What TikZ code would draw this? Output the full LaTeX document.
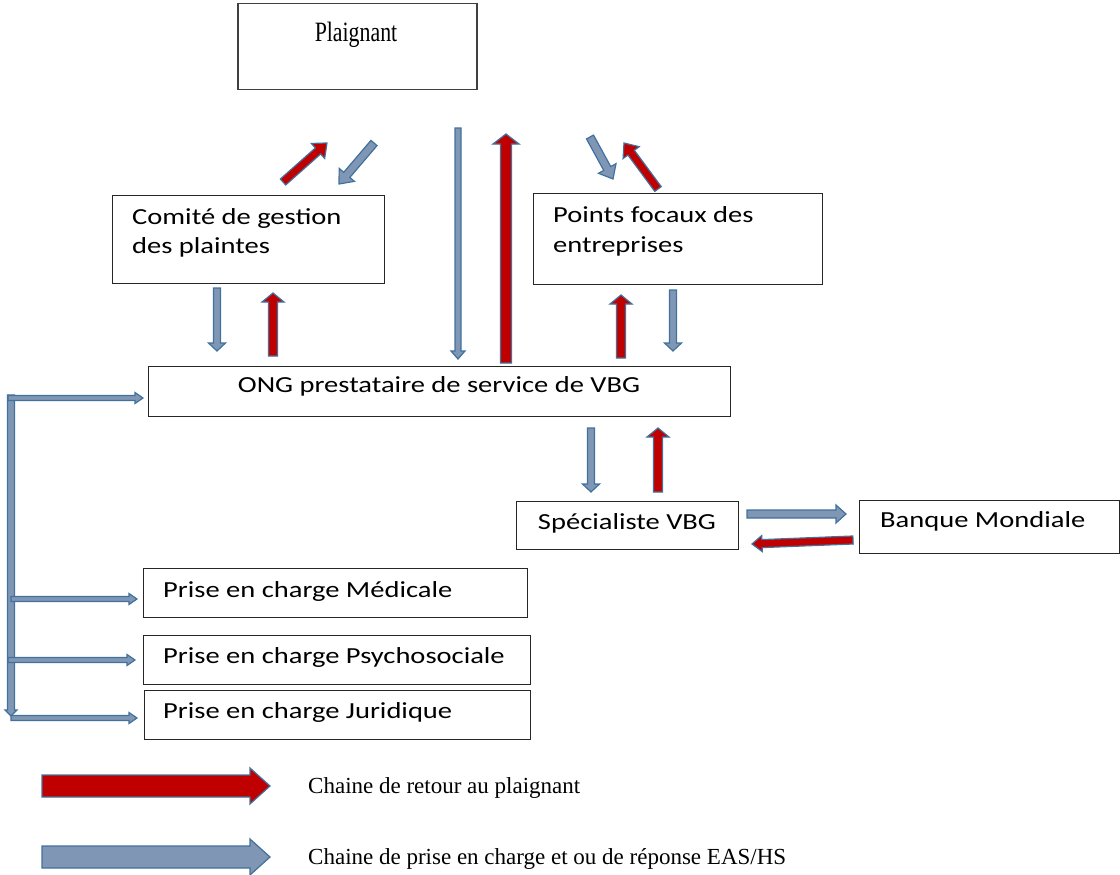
\documentclass[tikz,border=0pt]{standalone}
\usepackage{fontspec}
\usetikzlibrary{calc}
\newfontfamily\carl{Carlito}[FakeStretch=1.24]
\newfontfamily\serifc{Liberation Serif}[FakeStretch=0.78]
\newfontfamily\serifn{Liberation Serif}
\definecolor{arrblue}{RGB}{127,150,180}
\definecolor{arredge}{RGB}{65,113,156}
\definecolor{arrred}{RGB}{192,0,0}
\tikzset{
  box/.style={draw=black!85, line width=1pt, anchor=north west, inner sep=0pt},
  lbl/.style={anchor=base west, inner sep=0pt, font=\carl\fontsize{23}{28}\selectfont},
  leg/.style={anchor=base west, inner sep=0pt, font=\serifn\fontsize{23}{28}\selectfont},
  bluearr/.style={fill=arrblue, draw=arredge, line width=1.2pt},
  redarr/.style={fill=arrred, draw=arredge, line width=1.2pt},
}
% #1 style, #2 start, #3 tip, #4 shaft half width, #5 head half width, #6 head length
\newcommand\blockarr[6]{%
  \coordinate (ban) at ($(#3)!#6!(#2)$);
  \draw[#1] ($(#2)!#4!90:(#3)$) -- ($(ban)!#4!90:(#3)$) -- ($(ban)!#5!90:(#3)$)
    -- (#3) -- ($(ban)!#5!-90:(#3)$) -- ($(ban)!#4!-90:(#3)$) -- ($(#2)!#4!-90:(#3)$) -- cycle;}
\begin{document}
\begin{tikzpicture}[x=1pt,y=-1pt]
\useasboundingbox (0,0) rectangle (1120,875);
% boxes
\node[box, draw=black!75, line width=1.5pt, minimum width=239pt, minimum height=86pt] (plaignant) at (237,3) {};
\node[anchor=base, inner sep=0pt, font=\serifc\fontsize{28}{32}\selectfont] (tplaignant) at (356,42) {Plaignant};
\node[box, minimum width=272pt, minimum height=88pt] (comite) at (112,195) {};
\node[lbl] (tcomite1) at (132,224) {Comité de gestion};
\node[lbl] (tcomite2) at (132,253) {des plaintes};
\node[box, minimum width=289pt, minimum height=91pt] (points) at (533,193) {};
\node[lbl] (tpoints1) at (553,222) {Points focaux des};
\node[lbl] (tpoints2) at (553,252) {entreprises};
\node[box, minimum width=582pt, minimum height=50pt] (ong) at (148,366) {};
\node[lbl, anchor=base] (tong) at (439,392) {ONG prestataire de service de VBG};
\node[box, minimum width=222pt, minimum height=48pt] (spec) at (516,501) {};
\node[lbl, anchor=base] (tspec) at (627,529) {Spécialiste VBG};
\node[box, minimum width=260pt, minimum height=53pt] (banque) at (859,500) {};
\node[lbl] (tbanque) at (880,527) {Banque Mondiale};
\node[box, minimum width=384pt, minimum height=49pt] (med) at (143,568) {};
\node[lbl] (tmed) at (163,597) {Prise en charge Médicale};
\node[box, minimum width=387pt, minimum height=49pt] (psy) at (143,635) {};
\node[lbl] (tpsy) at (163,663) {Prise en charge Psychosociale};
\node[box, minimum width=386pt, minimum height=49pt] (jur) at (144,690) {};
\node[lbl] (tjur) at (163,718) {Prise en charge Juridique};
% arrow end points
\coordinate (r1s) at (283,182); \coordinate (r1e) at (327,143);
\coordinate (b1s) at (374,143); \coordinate (b1e) at (339,184);
\coordinate (b2s) at (217,288); \coordinate (b2e) at (217,351);
\coordinate (r2s) at (273,356); \coordinate (r2e) at (273,293);
\coordinate (b3s) at (458,128); \coordinate (b3e) at (458,359);
\coordinate (r3s) at (506,363); \coordinate (r3e) at (506,134);
\coordinate (b4s) at (590,137); \coordinate (b4e) at (613,179);
\coordinate (r4s) at (658,189); \coordinate (r4e) at (624,143);
\coordinate (r5s) at (621,358); \coordinate (r5e) at (621,295);
\coordinate (b5s) at (673,290); \coordinate (b5e) at (673,351);
\coordinate (b6s) at (591,428); \coordinate (b6e) at (591,492);
\coordinate (r6s) at (658,492); \coordinate (r6e) at (658,428);
\coordinate (b7s) at (747,514); \coordinate (b7e) at (846,514);
\coordinate (r7s) at (853,540); \coordinate (r7e) at (752,544);
\coordinate (vs) at (11,395); \coordinate (ve) at (11,716);
\coordinate (h1s) at (8,398); \coordinate (h1e) at (143,398);
\coordinate (h2s) at (11,599); \coordinate (h2e) at (137,599);
\coordinate (h3s) at (8,660); \coordinate (h3e) at (135,660);
\coordinate (h4s) at (11,718); \coordinate (h4e) at (137,718);
\coordinate (lrs) at (42,786); \coordinate (lre) at (270,786);
\coordinate (lbs) at (42,857); \coordinate (lbe) at (270,857);
% arrows
\blockarr{redarr}{r1s}{r1e}{4pt}{10pt}{12pt}
\blockarr{bluearr}{b1s}{b1e}{4pt}{10pt}{12pt}
\blockarr{bluearr}{b2s}{b2e}{3.5pt}{8.5pt}{8pt}
\blockarr{redarr}{r2s}{r2e}{4.5pt}{11pt}{9pt}
\blockarr{bluearr}{b3s}{b3e}{3pt}{7pt}{8pt}
\blockarr{redarr}{r3s}{r3e}{5.5pt}{13pt}{10pt}
\blockarr{bluearr}{b4s}{b4e}{4pt}{10pt}{12pt}
\blockarr{redarr}{r4s}{r4e}{4pt}{10pt}{12pt}
\blockarr{redarr}{r5s}{r5e}{4.5pt}{11pt}{9pt}
\blockarr{bluearr}{b5s}{b5e}{3.5pt}{8.5pt}{8pt}
\blockarr{bluearr}{b6s}{b6e}{3.5pt}{8.5pt}{8pt}
\blockarr{redarr}{r6s}{r6e}{4.5pt}{11pt}{9pt}
\blockarr{bluearr}{b7s}{b7e}{4pt}{9pt}{10pt}
\blockarr{redarr}{r7s}{r7e}{4pt}{8pt}{10pt}
\blockarr{bluearr}{vs}{ve}{3.5pt}{6pt}{6pt}
\blockarr{bluearr}{h1s}{h1e}{2.5pt}{5.5pt}{8pt}
\blockarr{bluearr}{h2s}{h2e}{2.5pt}{5.5pt}{8pt}
\blockarr{bluearr}{h3s}{h3e}{2.5pt}{5.5pt}{8pt}
\blockarr{bluearr}{h4s}{h4e}{2.5pt}{5.5pt}{8pt}
% legend
\blockarr{redarr}{lrs}{lre}{11pt}{18pt}{20pt}
\blockarr{bluearr}{lbs}{lbe}{11pt}{18pt}{20pt}
\node[leg] (legr) at (308,793) {Chaine de retour au plaignant};
\node[leg] (legb) at (308,864) {Chaine de prise en charge et ou de réponse EAS/HS};
\end{tikzpicture}
\end{document}
